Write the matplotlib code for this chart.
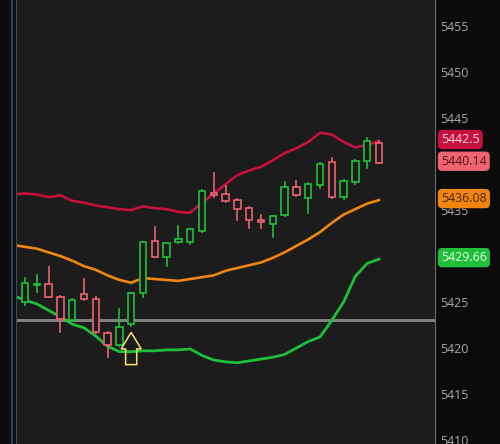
import matplotlib
matplotlib.use('Agg')
import matplotlib.pyplot as plt
from matplotlib.patches import Rectangle, Polygon
from matplotlib.lines import Line2D

# --- dane świec (OHLC) ---
opens = [5425.0, 5426.9, 5427.0, 5425.5, 5423.0, 5425.9, 5425.3, 5421.6, 5420.3, 5422.6,
         5426.0, 5431.6, 5429.9, 5431.5, 5431.5, 5432.7, 5436.9, 5436.7, 5436.1, 5435.2,
         5433.9, 5433.5, 5434.5, 5437.5, 5436.3, 5437.7, 5440.2, 5436.4, 5438.0, 5440.3, 5442.3]
highs = [5427.6, 5427.9, 5428.8, 5425.7, 5425.3, 5427.5, 5425.6, 5421.7, 5424.2, 5426.0,
         5431.5, 5433.2, 5431.4, 5433.3, 5432.9, 5437.2, 5439.0, 5437.6, 5436.2, 5435.3,
         5434.5, 5434.4, 5438.0, 5438.2, 5437.9, 5440.1, 5440.7, 5438.3, 5440.4, 5442.8, 5442.5]
lows = [5424.7, 5426.1, 5425.6, 5421.7, 5422.9, 5425.2, 5421.6, 5419.0, 5420.2, 5422.4,
        5425.5, 5429.9, 5428.9, 5431.4, 5431.3, 5432.6, 5436.4, 5435.9, 5433.9, 5433.0,
        5433.0, 5432.1, 5434.4, 5436.5, 5434.7, 5437.4, 5436.3, 5436.2, 5437.8, 5439.6, 5440.1]
closes = [5427.1, 5427.0, 5425.6, 5423.2, 5425.2, 5425.3, 5421.7, 5420.3, 5422.3, 5426.0,
          5431.5, 5429.9, 5431.4, 5431.8, 5432.9, 5437.1, 5436.6, 5436.0, 5435.1, 5433.9,
          5433.7, 5434.3, 5437.5, 5436.6, 5437.8, 5440.0, 5436.4, 5438.2, 5440.3, 5442.5, 5440.14]

# --- wstęgi Bollingera (pierwszy punkt to świeca poza kadrem) ---
band_x = list(range(-1, 31))
upper = [5436.7, 5436.8, 5436.7, 5436.4, 5436.6, 5436.0, 5435.8, 5435.5, 5435.3, 5435.1, 5435.0,
         5435.4, 5435.2, 5435.1, 5434.8, 5434.7, 5435.8, 5436.8, 5437.8, 5438.8, 5439.3,
         5439.7, 5440.4, 5441.2, 5441.7, 5442.4, 5443.4, 5443.2, 5442.4, 5441.8, 5442.1, 5442.5]
middle = [5431.2, 5431.0, 5430.8, 5430.4, 5430.0, 5429.5, 5428.9, 5428.5, 5427.9, 5427.4, 5427.1,
          5427.6, 5427.5, 5427.4, 5427.3, 5427.5, 5427.7, 5427.9, 5428.4, 5428.7, 5429.0,
          5429.3, 5429.8, 5430.4, 5431.1, 5431.8, 5432.6, 5433.6, 5434.5, 5435.1, 5435.7, 5436.08]
lower = [5425.7, 5425.2, 5424.8, 5424.1, 5423.4, 5422.6, 5422.2, 5421.3, 5420.2, 5419.6, 5419.6,
         5419.7, 5419.7, 5419.8, 5419.8, 5419.9, 5419.2, 5418.7, 5418.5, 5418.4, 5418.6,
         5418.8, 5419.0, 5419.3, 5420.0, 5420.7, 5421.2, 5423.0, 5425.0, 5427.8, 5429.2, 5429.66]

price_line = 5423.04
y_ticks = [5410, 5415, 5420, 5425, 5430, 5435, 5440, 5445, 5450, 5455]
covered_ticks = [5430, 5440]   # zasłonięte przez etykiety wartości
arrow_bar = 9

BG = '#1c1c1c'
GREEN = '#22c03c'
RED = '#ec6270'

fig = plt.figure(figsize=(5, 4.44), dpi=100)
fig.patch.set_facecolor('#0b0b0b')
ax = fig.add_axes([16 / 500, 0, 419 / 500, 1])
ax.set_facecolor(BG)

# --- wstęgi ---
ax.plot(band_x, upper, color='#c8103e', lw=1.9, zorder=2)
ax.plot(band_x, middle, color='#f08612', lw=1.9, zorder=2)
ax.plot(band_x, lower, color='#1fbf3a', lw=2.0, zorder=2)

# linia ceny
ax.axhline(price_line, color='#8c8c8c', lw=2.2, alpha=0.9, zorder=1.8)

# --- świece (puste w środku) ---
bw = 0.55
for i, (o, h, l, c) in enumerate(zip(opens, highs, lows, closes)):
    col = GREEN if c >= o else RED
    ax.plot([i, i], [l, h], color=col, lw=1.2, zorder=3)
    lo, hi = min(o, c), max(o, c)
    ax.add_patch(Rectangle((i - bw / 2, lo), bw, max(hi - lo, 0.05),
                           facecolor=BG, edgecolor=col, lw=1.2, zorder=4))

# --- strzałka ---
a_tip, a_base, a_end = 5421.7, 5419.9, 5418.2
ax.add_patch(Polygon([(arrow_bar, a_tip), (arrow_bar + 0.85, a_base), (arrow_bar + 0.47, a_base),
                      (arrow_bar + 0.47, a_end), (arrow_bar - 0.47, a_end), (arrow_bar - 0.47, a_base),
                      (arrow_bar - 0.85, a_base)],
                     closed=True, fill=False, edgecolor='#f2e46a', lw=1.1, zorder=5))

ax.set_xlim(-0.76, 34.75)
ax.set_ylim(5409.57, 5457.83)
ax.set_xticks([])
ax.set_yticks(y_ticks)
ax.set_yticklabels([str(t) for t in y_ticks])
ax.yaxis.tick_right()
ax.tick_params(axis='y', length=0, pad=3.6, labelsize=8.9, labelcolor='#a8a8a8')
for t, lab in zip(y_ticks, ax.get_yticklabels()):
    lab.set_fontfamily('Open Sans')
    if t in covered_ticks:
        lab.set_visible(False)
for side in ['top', 'bottom']:
    ax.spines[side].set_visible(False)
ax.spines['left'].set_color('#4a4a4a')
ax.spines['right'].set_color('#6a6a6a')

# --- etykiety wartości po prawej ---
tags = [(upper[-1], '5442.5', '#c8103e', '#f4d8de'),
        (closes[-1], '5440.14', '#ee6470', '#5a1018'),
        (middle[-1], '5436.08', '#f0860e', '#4a2400'),
        (lower[-1], '5429.66', '#1fbf3a', '#e8ffe8')]
for val, txt, bg, fg in tags:
    ax.annotate(txt, xy=(1.0, val), xycoords=('axes fraction', 'data'),
                xytext=(4.3, 1.1), textcoords='offset points', ha='left', va='center',
                fontsize=8.9, family='Open Sans', color=fg, annotation_clip=False,
                bbox=dict(boxstyle='round,pad=0.2,rounding_size=0.3', fc=bg, ec=bg), zorder=6)

# lewy pasek
fig.add_artist(Line2D([12 / 500, 12 / 500], [0, 1], transform=fig.transFigure,
                      color='#1d4670', lw=1.5))

fig.savefig('out.png', dpi=100, facecolor=fig.get_facecolor())
